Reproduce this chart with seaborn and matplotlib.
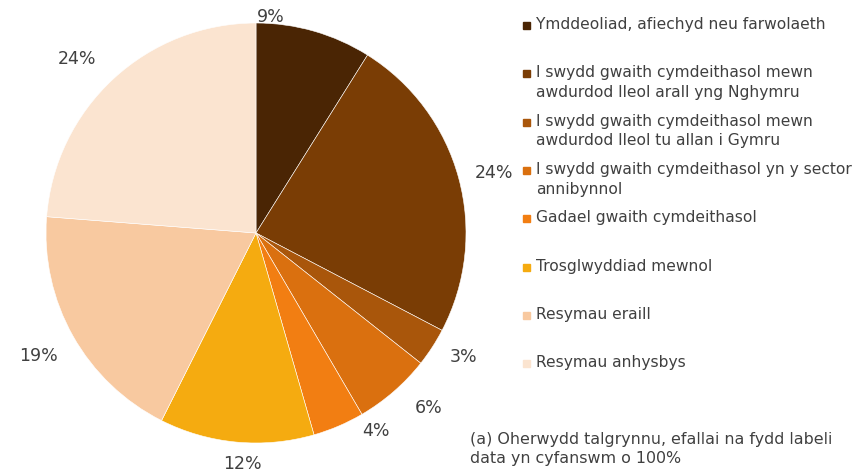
import numpy as np
import seaborn as sns
import matplotlib.pyplot as plt
from matplotlib.patches import Rectangle

sns.set_style('white')
plt.rcParams['font.family'] = ['DejaVu Sans']

categories = ['Ymddeoliad, afiechyd neu farwolaeth',
              'I swydd gwaith cymdeithasol mewn\nawdurdod lleol arall yng Nghymru',
              'I swydd gwaith cymdeithasol mewn\nawdurdod lleol tu allan i Gymru',
              'I swydd gwaith cymdeithasol yn y sector\nannibynnol',
              'Gadael gwaith cymdeithasol',
              'Trosglwyddiad mewnol',
              'Resymau eraill',
              'Resymau anhysbys']
values = [9, 24, 3, 6, 4, 12, 19, 24]
colors = ['#4a2504', '#7a3d05', '#a9560b', '#da700f',
          '#f27e12', '#f5ab10', '#f8c9a0', '#fbe4d0']
note = '(a) Oherwydd talgrynnu, efallai na fydd labeli\ndata yn cyfanswm o 100%'

# data label placement (Excel best-fit): clockwise nudge in degrees, radial distance
lab_shift = [-12, 1, -2, -3.5, -8, -2, 0, -3]
lab_dist = [1.03, 1.17, 1.15, 1.17, 1.10, 1.10, 1.19, 1.19]

txt = '#404040'
W, H = 861, 472
fig = plt.figure(figsize=(8.61, 4.72), dpi=100)
ax = fig.add_axes([(256 - 210) / W, 1 - 443 / H, 420 / W, 420 / H])

wedges, _ = ax.pie(values, colors=colors, startangle=90, counterclock=False,
                   wedgeprops=dict(edgecolor='white', linewidth=0.4))

vals = np.array(values, dtype=float)
mid_cw = (np.cumsum(vals) - vals / 2) / vals.sum() * 360  # clockwise from top
for v, m, da, r in zip(values, mid_cw, lab_shift, lab_dist):
    th = np.deg2rad(90 - (m + da))
    ax.text(r * np.cos(th), r * np.sin(th), f'{v}%', fontsize=12.5,
            color=txt, ha='center', va='center')
ax.set_xlim(-1, 1)
ax.set_ylim(-1, 1)
ax.set_aspect('equal')
ax.axis('off')

# legend drawn by hand so each entry gets the same pitch
for i, (lab, col) in enumerate(zip(categories, colors)):
    ytop = 17 + i * 48.3
    fig.patches.append(Rectangle((523 / W, 1 - (ytop + 12) / H), 7 / W, 7 / H,
                                 transform=fig.transFigure, color=col))
    fig.text(536 / W, 1 - ytop / H, lab, fontsize=11.2, color=txt, va='top',
             ha='left', linespacing=1.4)

fig.text(470 / W, 1 - 432 / H, note, fontsize=11.4, color=txt, va='top',
         ha='left', linespacing=1.35)

fig.savefig('out.png', dpi=100)
